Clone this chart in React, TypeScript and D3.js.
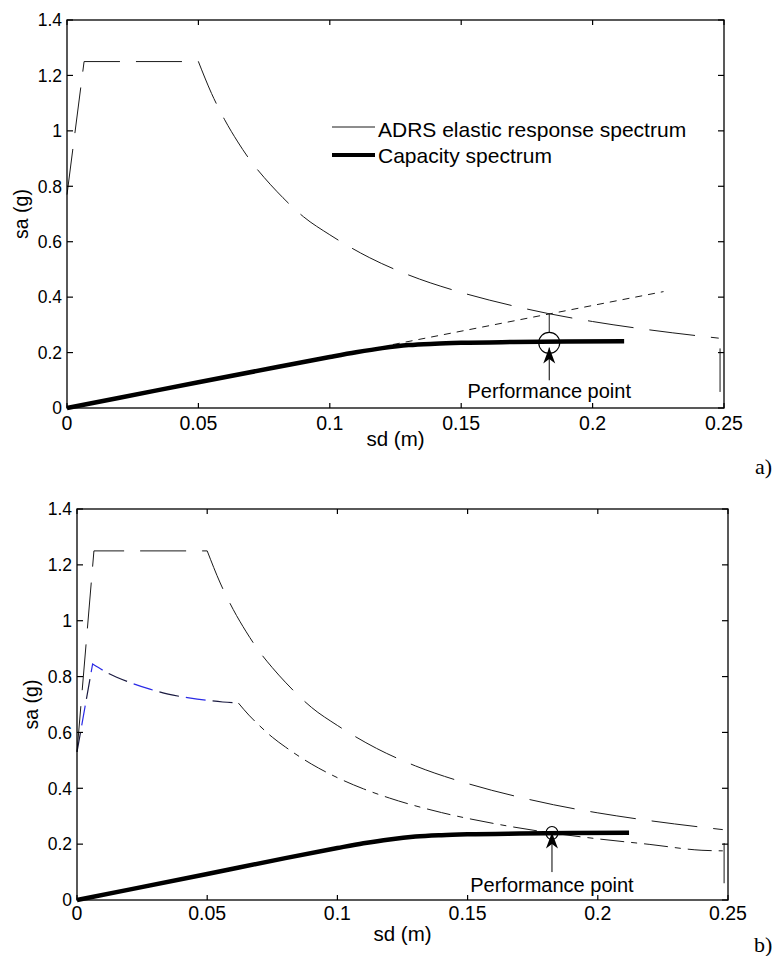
import React from "react";
import * as d3 from "d3";

type P = [number, number];

const xTicks = [0, 0.05, 0.1, 0.15, 0.2, 0.25];
const xTickLabels = ["0", "0.05", "0.1", "0.15", "0.2", "0.25"];
const yTicks = [0, 0.2, 0.4, 0.6, 0.8, 1.0, 1.2, 1.4];
const yTickLabels = ["0", "0.2", "0.4", "0.6", "0.8", "1", "1.2", "1.4"];

const legendLabels = ["ADRS elastic response spectrum", "Capacity spectrum"];
const annotationLabel = "Performance point";
const xAxisLabel = "sd (m)";
const yAxisLabel = "sa (g)";
const panelLabels = ["a)", "b)"];

// Panel a
const elasticRiseA: P[] = [[0, 0.77], [0.0065, 1.25], [0.05, 1.25]];
const elasticDecayA: P[] = [
  [0.05, 1.25], [0.055, 1.135], [0.06, 1.04], [0.065, 0.96],
  [0.07, 0.89], [0.075, 0.832], [0.08, 0.78], [0.09, 0.69], [0.1, 0.625], [0.115, 0.543],
  [0.13, 0.48], [0.15, 0.417], [0.17, 0.368], [0.183, 0.341], [0.2, 0.312], [0.22, 0.284],
  [0.248, 0.252],
];
const capacityA: P[] = [
  [0, 0], [0.02, 0.037], [0.05, 0.093], [0.08, 0.148], [0.1, 0.184], [0.11, 0.201],
  [0.12, 0.216], [0.13, 0.227], [0.14, 0.232], [0.15, 0.235], [0.17, 0.238],
  [0.19, 0.24], [0.212, 0.241],
];
const stiffnessLineA: P[] = [[0.124, 0.229], [0.227, 0.42]];
const endLineA: P[] = [[0.2485, 0.215], [0.2485, 0.058]];
const dropLineA: P[] = [[0.1835, 0.341], [0.1835, 0.271]];
const perfPointA: P = [0.1835, 0.235];
const arrowA: P[] = [[0.1835, 0.1], [0.1835, 0.218]];
const labelPosA: P = [0.1835, 0.036];

// Panel b
const elasticRiseB: P[] = [[0, 0.53], [0.0065, 1.25], [0.05, 1.25]];
const elasticDecayB: P[] = [
  [0.05, 1.25], [0.055, 1.135], [0.06, 1.04], [0.065, 0.96],
  [0.07, 0.89], [0.075, 0.832], [0.08, 0.78], [0.09, 0.69], [0.1, 0.625], [0.115, 0.543],
  [0.13, 0.48], [0.15, 0.417], [0.17, 0.368], [0.183, 0.341], [0.2, 0.312], [0.22, 0.284],
  [0.248, 0.252],
];
const reducedRiseB: P[] = [[0, 0.53], [0.006, 0.845]];
const reducedPlateauB: P[] = [
  [0.006, 0.845], [0.012, 0.812], [0.02, 0.78], [0.028, 0.755], [0.035, 0.737],
  [0.043, 0.724], [0.05, 0.715], [0.056, 0.709], [0.062, 0.705],
];
const reducedTailB: P[] = [
  [0.062, 0.705], [0.066, 0.662], [0.07, 0.625], [0.075, 0.583], [0.08, 0.548], [0.09, 0.487],
  [0.1, 0.438], [0.11, 0.398], [0.12, 0.365], [0.14, 0.313], [0.16, 0.274], [0.183, 0.239],
  [0.2, 0.219], [0.22, 0.199], [0.24, 0.178], [0.248, 0.176],
];
const capacityB: P[] = [
  [0, 0], [0.02, 0.037], [0.05, 0.093], [0.08, 0.15], [0.1, 0.186], [0.11, 0.203],
  [0.12, 0.217], [0.13, 0.227], [0.14, 0.232], [0.15, 0.235], [0.17, 0.238],
  [0.19, 0.24], [0.212, 0.241],
];
const endLineB: P[] = [[0.2485, 0.204], [0.2485, 0.06]];
const perfPointB: P = [0.1824, 0.24];
const arrowB: P[] = [[0.1824, 0.1], [0.1824, 0.242]];
const labelPosB: P = [0.1824, 0.029];

const FONT = "'Liberation Sans', Arial, Helvetica, sans-serif";

type Frame = { left: number; right: number; top: number; bottom: number; xTickOffset: number; xLabelY: number; yLabelX: number; };

function Axes({ f, x, y }: { f: Frame; x: d3.ScaleLinear<number, number>; y: d3.ScaleLinear<number, number> }) {
  return (
    <g>
      <rect x={f.left} y={f.top} width={f.right - f.left} height={f.bottom - f.top} fill="none" stroke="#000" strokeWidth={1.3} />
      {xTicks.map((t, i) => (
        <g key={"xt" + i}>
          <line x1={x(t)} x2={x(t)} y1={f.bottom} y2={f.bottom - 5} stroke="#000" strokeWidth={1.2} />
          <line x1={x(t)} x2={x(t)} y1={f.top} y2={f.top + 5} stroke="#000" strokeWidth={1.2} />
          <text x={x(t)} y={f.bottom + f.xTickOffset} textAnchor="middle" fontFamily={FONT} fontSize={19.5} fill="#000">
            {xTickLabels[i]}
          </text>
        </g>
      ))}
      {yTicks.map((t, i) => (
        <g key={"yt" + i}>
          <line x1={f.left} x2={f.left + 6} y1={y(t)} y2={y(t)} stroke="#000" strokeWidth={1.2} />
          <line x1={f.right} x2={f.right - 6} y1={y(t)} y2={y(t)} stroke="#000" strokeWidth={1.2} />
          <text x={f.left - 5} y={y(t)} dy="0.36em" textAnchor="end" fontFamily={FONT} fontSize={17.5} fill="#000">
            {yTickLabels[i]}
          </text>
        </g>
      ))}
      <text x={(f.left + f.right) / 2} y={f.xLabelY} textAnchor="middle" fontFamily={FONT} fontSize={20.5} fill="#000">
        {xAxisLabel}
      </text>
      <text
        transform={`translate(${f.yLabelX},${(f.top + f.bottom) / 2}) rotate(-90)`}
        textAnchor="middle"
        dy="0.35em"
        fontFamily={FONT}
        fontSize={19.5}
        fill="#000"
      >
        {yAxisLabel}
      </text>
    </g>
  );
}

function arrowPath(tx: number, ty: number, len: number, half: number) {
  return `M${tx},${ty} L${tx - half},${ty + len} L${tx},${ty + len * 0.72} L${tx + half},${ty + len} Z`;
}

export default function App() {
  const fa: Frame = { left: 67, right: 724, top: 20, bottom: 408, xTickOffset: 22, xLabelY: 446, yLabelX: 21 };
  const fb: Frame = { left: 77, right: 728, top: 509, bottom: 900, xTickOffset: 20, xLabelY: 941, yLabelX: 31 };

  const xa = d3.scaleLinear().domain([0, 0.25]).range([fa.left, fa.right]);
  const ya = d3.scaleLinear().domain([0, 1.4]).range([fa.bottom, fa.top]);
  const xb = d3.scaleLinear().domain([0, 0.25]).range([fb.left, fb.right]);
  const yb = d3.scaleLinear().domain([0, 1.4]).range([fb.bottom, fb.top]);

  const la = d3.line<P>().x((d) => xa(d[0])).y((d) => ya(d[1]));
  const lb = d3.line<P>().x((d) => xb(d[0])).y((d) => yb(d[1]));
  const sa = d3.line<P>().x((d) => xa(d[0])).y((d) => ya(d[1])).curve(d3.curveMonotoneX);
  const sb = d3.line<P>().x((d) => xb(d[0])).y((d) => yb(d[1])).curve(d3.curveMonotoneX);

  // join a straight part and a smooth part into one continuous path (keeps the dash pattern running)
  const join = (a: string | null, b: string | null) => (a || "") + (b || "").replace(/^M/, "L");

  const thin = "#1a1a1a";

  return (
    <svg width={772} height={956} style={{ position: "absolute", left: 0, top: 0, background: "#fff" }}>
      <rect x={0} y={0} width={772} height={956} fill="#fff" />
      {/* Panel a */}
      <g>
        <path d={join(la(elasticRiseA), sa(elasticDecayA))} fill="none" stroke={thin} strokeWidth={1} strokeDasharray="46,16" />
        <path d={la(stiffnessLineA) || ""} fill="none" stroke={thin} strokeWidth={1} strokeDasharray="7,6" />
        <path d={la(endLineA) || ""} fill="none" stroke={thin} strokeWidth={1} />
        <path d={la(dropLineA) || ""} fill="none" stroke={thin} strokeWidth={1} />
        <path d={sa(capacityA) || ""} fill="none" stroke="#000" strokeWidth={4.5} strokeLinejoin="round" />
        <ellipse cx={xa(perfPointA[0])} cy={ya(perfPointA[1])} rx={10.5} ry={10.5} fill="none" stroke="#000" strokeWidth={1.1} />
        <path d={la(arrowA) || ""} fill="none" stroke="#000" strokeWidth={1} />
        <path d={arrowPath(xa(arrowA[1][0]), ya(arrowA[1][1]), 16, 6)} fill="#000" />
        <text x={xa(labelPosA[0])} y={ya(labelPosA[1])} textAnchor="middle" fontFamily={FONT} fontSize={20} fill="#000">
          {annotationLabel}
        </text>
        <Axes f={fa} x={xa} y={ya} />
        {/* legend */}
        <line x1={332} x2={375} y1={127} y2={127} stroke={thin} strokeWidth={1} />
        <line x1={332} x2={375} y1={155} y2={155} stroke="#000" strokeWidth={4} />
        <text x={378} y={137} fontFamily={FONT} fontSize={21} fill="#000">{legendLabels[0]}</text>
        <text x={378} y={163} fontFamily={FONT} fontSize={21} fill="#000">{legendLabels[1]}</text>
        <text x={755} y={474} fontFamily="'Liberation Serif', 'Times New Roman', serif" fontSize={22} fill="#000">{panelLabels[0]}</text>
      </g>
      {/* Panel b */}
      <g>
        <path d={join(lb(elasticRiseB), sb(elasticDecayB))} fill="none" stroke={thin} strokeWidth={1} strokeDasharray="46,16" />
        <path d={join(lb(reducedRiseB), sb(reducedPlateauB))} fill="none" stroke="#1a1a40" strokeWidth={1.2} strokeDasharray="20,34" />
        <path d={join(lb(reducedRiseB), sb(reducedPlateauB))} fill="none" stroke="#2a2ae6" strokeWidth={1.2} strokeDasharray="20,34" strokeDashoffset={-27} />
        <path d={sb(reducedTailB) || ""} fill="none" stroke={thin} strokeWidth={1} strokeDasharray="24,7,6,7" />
        <path d={lb(endLineB) || ""} fill="none" stroke={thin} strokeWidth={1} />
        <path d={sb(capacityB) || ""} fill="none" stroke="#000" strokeWidth={4.5} strokeLinejoin="round" />
        <ellipse cx={xb(perfPointB[0])} cy={yb(perfPointB[1])} rx={6} ry={6.5} fill="none" stroke="#000" strokeWidth={1.1} />
        <path d={lb(arrowB) || ""} fill="none" stroke="#000" strokeWidth={1} />
        <path d={arrowPath(xb(arrowB[1][0]), yb(arrowB[1][1]), 16, 6)} fill="#000" />
        <text x={xb(labelPosB[0])} y={yb(labelPosB[1])} textAnchor="middle" fontFamily={FONT} fontSize={20} fill="#000">
          {annotationLabel}
        </text>
        <Axes f={fb} x={xb} y={yb} />
        <text x={754} y={952} fontFamily="'Liberation Serif', 'Times New Roman', serif" fontSize={22} fill="#000">{panelLabels[1]}</text>
      </g>
    </svg>
  );
}
